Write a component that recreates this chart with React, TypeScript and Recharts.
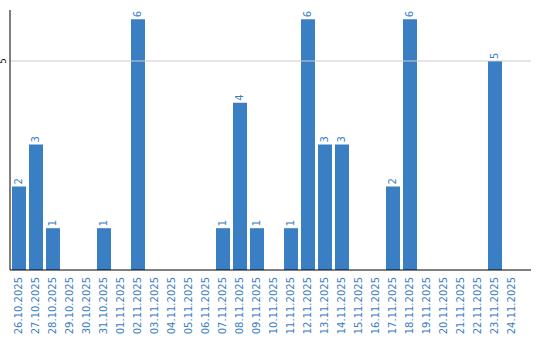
import { BarChart, Bar, XAxis, YAxis, LabelList, ReferenceLine } from 'recharts';

const days = [
  '26.10.2025', '27.10.2025', '28.10.2025', '29.10.2025', '30.10.2025', '31.10.2025',
  '01.11.2025', '02.11.2025', '03.11.2025', '04.11.2025', '05.11.2025', '06.11.2025',
  '07.11.2025', '08.11.2025', '09.11.2025', '10.11.2025', '11.11.2025', '12.11.2025',
  '13.11.2025', '14.11.2025', '15.11.2025', '16.11.2025', '17.11.2025', '18.11.2025',
  '19.11.2025', '20.11.2025', '21.11.2025', '22.11.2025', '23.11.2025', '24.11.2025',
];

const counts = [
  2, 3, 1, 0, 0, 1,
  0, 6, 0, 0, 0, 0,
  1, 4, 1, 0, 1, 6,
  3, 3, 0, 0, 2, 6,
  0, 0, 0, 0, 5, 0,
];

const yTicks = [5];

const BLUE = '#3a7ec3';

const chartData = days.map((day, i) => ({ day, count: counts[i] }));

function DayTick({ x, payload }: any) {
  const ty = 277;
  return (
    <text
      x={x}
      y={ty}
      transform={`rotate(-90 ${x} ${ty})`}
      textAnchor="end"
      dominantBaseline="central"
      fontSize={10}
      fontFamily="DejaVu Sans"
      fill={BLUE}
    >
      {payload.value}
    </text>
  );
}

function CountTick({ y, payload }: any) {
  const cx = 4;
  return (
    <text
      x={cx}
      y={y}
      transform={`rotate(-90 ${cx} ${y})`}
      textAnchor="middle"
      dominantBaseline="central"
      fontSize={8}
      fontFamily="DejaVu Sans"
      fill="#000"
    >
      {payload.value}
    </text>
  );
}

function BarValue({ x, y, width, value }: any) {
  if (!value) return null;
  const cx = x + width / 2;
  const ty = y - 2;
  return (
    <text
      x={cx}
      y={ty}
      transform={`rotate(-90 ${cx} ${ty})`}
      textAnchor="start"
      dominantBaseline="central"
      fontSize={10}
      fontFamily="DejaVu Sans"
      fill={BLUE}
    >
      {value}
    </text>
  );
}

export default function App() {
  return (
    <div style={{ position: 'absolute', left: 0, top: 0, background: '#fff' }}>
      <BarChart
        width={540}
        height={340}
        data={chartData}
        margin={{ top: 10, right: 9, bottom: 0, left: 0 }}
      >
        <ReferenceLine y={5} stroke="#cccccc" />
        <XAxis
          dataKey="day"
          interval={0}
          height={70}
          tickLine={false}
          axisLine={{ stroke: '#000' }}
          padding={{ left: 0, right: 11 }}
          tick={<DayTick />}
        />
        <YAxis
          width={10}
          domain={[0, 6.22]}
          ticks={yTicks}
          tickLine={false}
          axisLine={{ stroke: '#000' }}
          tick={<CountTick />}
        />
        <Bar dataKey="count" fill={BLUE} barSize={14} isAnimationActive={false}>
          <LabelList dataKey="count" content={<BarValue />} />
        </Bar>
      </BarChart>
    </div>
  );
}
